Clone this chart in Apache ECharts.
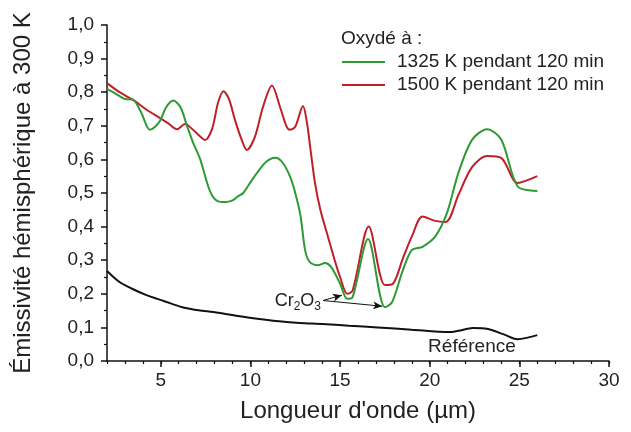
<!DOCTYPE html>
<html><head><meta charset="utf-8">
<script src="https://cdn.jsdelivr.net/npm/echarts@6/dist/echarts.min.js"></script>
<style>html,body{margin:0;padding:0;background:#fff}#c{width:631px;height:432px}</style>
</head><body><div id="c"></div>
<script>
const greenX = [2.0,2.5,3.0,3.45,3.9,4.4,4.9,5.3,5.7,6.1,6.46,6.8,7.2,7.75,8.2,8.6,9.0,9.3,9.6,10.1,10.7,11.0,11.4,11.8,12.2,12.5,12.8,13.05,13.3,13.77,14.16,14.5,15.0,15.4,15.7,16.56,17.5,17.9,18.5,19.0,19.6,20.3,20.96,21.6,22.36,23.2,24.0,24.9,26.0];
const greenY = [0.81,0.795,0.78,0.778,0.74,0.688,0.71,0.755,0.775,0.755,0.70,0.65,0.60,0.505,0.475,0.473,0.478,0.49,0.50,0.54,0.583,0.598,0.605,0.59,0.55,0.50,0.43,0.33,0.295,0.285,0.292,0.28,0.23,0.185,0.19,0.363,0.16,0.175,0.27,0.33,0.34,0.37,0.44,0.56,0.658,0.69,0.658,0.52,0.506];
const redX = [2.0,2.7,3.45,4.23,4.96,5.4,5.9,6.35,6.8,7.2,7.47,7.86,8.2,8.5,8.8,9.14,9.5,9.8,10.25,10.7,11.2,11.65,12.0,12.2,12.5,12.93,13.15,13.35,13.6,13.9,14.27,14.7,15.0,15.4,15.7,16.6,17.5,17.95,18.5,19.0,19.6,20.3,20.9,21.6,22.36,23.2,24.0,24.9,26.0];
const redY = [0.827,0.80,0.777,0.747,0.723,0.708,0.69,0.705,0.688,0.668,0.658,0.69,0.77,0.803,0.78,0.717,0.66,0.628,0.667,0.756,0.82,0.756,0.70,0.688,0.697,0.759,0.71,0.63,0.53,0.45,0.38,0.30,0.25,0.2,0.21,0.40,0.226,0.23,0.305,0.37,0.43,0.417,0.414,0.494,0.577,0.61,0.604,0.53,0.55];
const refX = [2.0,2.7,3.4,4.2,5.2,6.2,7.2,8.3,9.4,10.5,11.6,12.76,14,15.5,17.1,19,21.1,21.6,22.4,23.25,24.1,24.9,26.0];
const refY = [0.268,0.235,0.215,0.196,0.178,0.16,0.15,0.143,0.133,0.125,0.118,0.113,0.11,0.105,0.10,0.093,0.086,0.09,0.098,0.095,0.08,0.065,0.077];
const xMajor = [5,10,15,20,25,30];
const xMinor = [2,3,4,5,6,7,8,9,10,11,12,13,14,15,16,17,18,19,20,21,22,23,24,25,26,27,28,29,30];
const seriesNames = ['1325 K pendant 120 min','1500 K pendant 120 min','Référence'];
const legendTitle = 'Oxydé à :';
const xTitle = "Longueur d'onde (µm)";
const yTitle = 'Émissivité hémisphérique à 300 K';

const zip = (xs, ys) => xs.map((x,i)=>[x, ys[i]]);
const FONT = '"Liberation Sans", Arial, sans-serif';
const chart = echarts.init(document.getElementById('c'));
const axisCommon = {min:2, max:30, position:'bottom'};
chart.setOption({
  animation:false,
  grid:{left:107, right:22, top:25, bottom:71},
  legend:{
    data:[seriesNames[0], seriesNames[1]], orient:'vertical', left:342, top:52, padding:0,
    itemWidth:43, itemHeight:14, itemGap:3, icon:'path://M0,6h43v2h-43z',
    textStyle:{fontFamily:FONT, fontSize:19, color:'#222', lineHeight:20, padding:[0,0,0,7]}
  },
  xAxis:[
    Object.assign({type:'value', name:xTitle, nameLocation:'middle', nameGap:38,
      nameTextStyle:{fontFamily:FONT, fontSize:24, color:'#222'},
      axisLine:{lineStyle:{color:'#111', width:1.5}},
      axisTick:{customValues:xMajor, length:6, lineStyle:{color:'#111', width:1.5}},
      axisLabel:{customValues:xMajor, fontFamily:FONT, fontSize:19, color:'#222', margin:10},
      splitLine:{show:false}}, axisCommon),
    Object.assign({type:'value', gridIndex:0,
      axisLine:{show:false},
      axisTick:{customValues:xMinor, length:3, lineStyle:{color:'#111', width:1.2}},
      axisLabel:{show:false}, splitLine:{show:false}}, axisCommon)
  ],
  yAxis:{type:'value', min:0, max:1, interval:0.1, name:yTitle, nameLocation:'middle', nameGap:72,
    nameTextStyle:{fontFamily:FONT, fontSize:24, color:'#222'},
    axisLine:{show:true, lineStyle:{color:'#111', width:1.5}},
    axisTick:{show:true, length:6, lineStyle:{color:'#111', width:1.5}},
    minorTick:{show:true, splitNumber:2, length:3, lineStyle:{color:'#111', width:1.2}},
    axisLabel:{fontFamily:FONT, fontSize:19, color:'#222', margin:13, formatter:v=>v.toFixed(1).replace('.',',')},
    splitLine:{show:false}},
  series:[
    {name:seriesNames[0], type:'line', data:zip(greenX,greenY), symbol:'none', smooth:0.3,
      lineStyle:{color:'#2e9a33', width:2}, itemStyle:{color:'#2e9a33'}, z:3},
    {name:seriesNames[1], type:'line', data:zip(redX,redY), symbol:'none', smooth:0.3,
      lineStyle:{color:'#c01f2a', width:2}, itemStyle:{color:'#c01f2a'}, z:2},
    {name:seriesNames[2], type:'line', data:zip(refX,refY), symbol:'none', smooth:0.3,
      lineStyle:{color:'#111', width:2}, itemStyle:{color:'#111'},
      markLine:{silent:true, symbol:['none','arrow'], symbolSize:[6,9], label:{show:false},
        lineStyle:{color:'#111', width:1, type:'solid'},
        data:[[{coord:[14.05,0.18]},{coord:[15.1,0.196]}],[{coord:[14.05,0.18]},{coord:[17.35,0.163]}]]}}
  ]
});
const p1 = chart.convertToPixel({gridIndex:0}, [14.05, 0.18]);
const p2 = chart.convertToPixel({gridIndex:0}, [24.8, 0.042]);
chart.setOption({graphic:[
  {type:'text', left:341, top:29, style:{text:legendTitle, font:'19px '+FONT, fill:'#222'}},
  {type:'text', x:p1[0]-2, y:p1[1]+1, style:{text:'{a|Cr}{s|2}{a|O}{s|3}', align:'right', verticalAlign:'middle',
    rich:{a:{fontFamily:FONT, fontSize:18, fill:'#222'}, s:{fontFamily:FONT, fontSize:12, fill:'#222', padding:[10,0,0,0]}}}},
  {type:'text', x:p2[0], y:p2[1], style:{text:'Référence', align:'right', verticalAlign:'middle', font:'19px '+FONT, fill:'#222'}}
]});
</script></body></html>
